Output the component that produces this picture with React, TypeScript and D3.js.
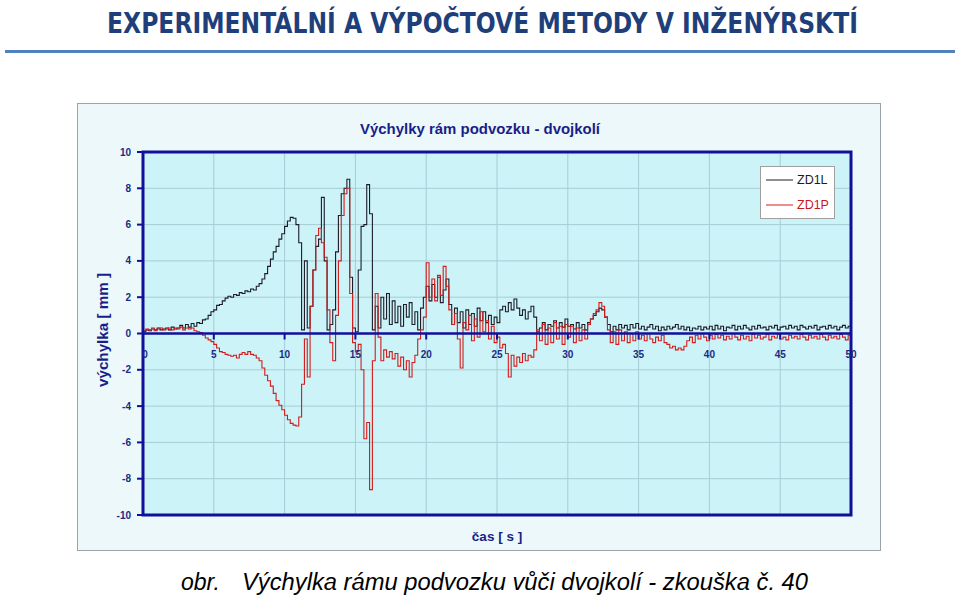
import React from "react";
import * as d3 from "d3";

const T_STEP = 0.2;

const ZD1L = [
  0.1, 0.2, 0.15, 0.25, 0.2, 0.3, 0.2, 0.25, 0.3, 0.2,
  0.35, 0.25, 0.3, 0.45, 0.3, 0.5, 0.35, 0.55, 0.4, 0.6,
  0.55, 0.75, 0.8, 1.0, 1.2, 1.3, 1.55, 1.6, 1.8, 1.95,
  2.05, 2.0, 2.15, 2.1, 2.25, 2.2, 2.35, 2.3, 2.45, 2.4,
  2.6, 2.75, 3.0, 3.3, 3.7, 4.1, 4.5, 4.8, 5.2, 5.5,
  5.9, 6.2, 6.4, 6.35, 6.0, 5.0, 0.2, 4.0, 0.3, 1.5,
  3.5, 4.8, 5.2, 7.5, 4.0, 0.2, 0.5, 1.3, 4.5, 6.5,
  7.7, 8.0, 8.5, 3.1, 0.3, 0.1, 3.5, 5.9, 6.0, 8.2,
  6.6, 0.2, 1.5, 0.3, 2.0, 0.8, 2.2, 0.5, 1.8, 0.6,
  1.5, 0.4, 1.6, 0.9, 1.7, 0.5, 1.2, 0.2, 1.4, 2.0,
  2.6, 1.8, 2.7, 2.0, 3.1, 1.7, 2.4, 3.0, 1.6, 0.5,
  1.4, 0.6, 1.2, 0.3, 1.3, 0.5, 1.1, 0.4, 1.4, 0.7,
  1.2, 0.6, 1.0, 0.5, 0.9, 0.6, 1.3, 1.5, 1.2, 1.7,
  1.3, 1.9, 1.4, 1.0, 1.3, 0.8, 1.2, 1.5, 0.9, 0.1,
  0.3, 0.6, 0.2, 0.5, 0.4, 0.7, 0.3, 0.6, 0.35, 0.8,
  0.4, 0.5, 0.25, 0.6, 0.3, 0.5, 0.2, 0.6, 0.8, 1.0,
  1.2, 1.4, 1.3, 0.9, 0.5, 0.1, 0.4, 0.2, 0.5, 0.3,
  0.45, 0.2, 0.5, 0.3, 0.55, 0.25, 0.4, 0.2, 0.35, 0.5,
  0.25, 0.4, 0.15, 0.35, 0.2, 0.4, 0.25, 0.35, 0.5, 0.25,
  0.4, 0.2, 0.35, 0.15, 0.3, 0.25, 0.4, 0.2, 0.35, 0.25,
  0.4, 0.2, 0.45, 0.25, 0.4, 0.15, 0.35, 0.3, 0.45, 0.2,
  0.4, 0.25, 0.45, 0.3, 0.2, 0.4, 0.25, 0.45, 0.3, 0.35,
  0.2, 0.4, 0.3, 0.45, 0.2, 0.35, 0.4, 0.25, 0.45, 0.3,
  0.4, 0.2, 0.45, 0.35, 0.25, 0.4, 0.3, 0.45, 0.2, 0.35,
  0.4, 0.25, 0.45, 0.3, 0.4, 0.2, 0.35, 0.45, 0.3, 0.4,
  0.25,
];

const ZD1P = [
  0.15, 0.25, 0.2, 0.3, 0.15, 0.25, 0.3, 0.2, 0.25, 0.3,
  0.2, 0.3, 0.25, 0.35, 0.2, 0.3, 0.25, 0.3, 0.15, 0.1,
  0.05, -0.1, -0.25, -0.35, -0.45, -0.6, -0.8, -1.0, -1.05, -1.15,
  -1.2, -1.25, -1.2, -1.35, -1.15, -1.05, -1.15, -1.0, -1.15, -1.2,
  -1.35, -1.5, -1.9, -2.3, -2.6, -2.9, -3.3, -3.7, -3.95, -4.2,
  -4.5, -4.75, -4.95, -5.05, -5.1, -4.6, -2.8, -0.3, -2.4, 1.5,
  3.5, 5.4, 5.8, 5.0, 4.2, 1.3, -0.5, -1.5, 1.0, 4.0,
  6.5, 7.7, 8.0, 2.2, -0.5, -1.0, -0.6, -2.0, -5.8, -4.9,
  -8.6, -1.5, 2.2, -0.2, -1.5, -0.9, -1.3, -1.0, -1.4, -1.1,
  -1.8, -1.3, -2.0, -1.5, -2.4, -1.6, -1.2, -0.3, 0.2, 0.9,
  3.9, 2.0, 3.0, 1.8, 3.2, 2.1, 3.7, 2.6, 1.3, 0.5,
  1.1, -0.3, -1.9, 0.6, 0.2, 1.0, -0.4, 0.8, -0.2, 1.2,
  0.1, 0.7, -0.3, 0.4, -0.5, -0.2, -0.8, -0.6, -1.1, -2.4,
  -1.2, -1.8, -1.3, -1.6, -1.1, -1.5, -1.2, -1.3, -0.9, 0.2,
  -0.4, 0.5, -0.6, 0.3, -0.5, 0.6, -0.3, 0.4, -0.6, 0.5,
  -0.2, 0.4, -0.5, 0.3, -0.4, 0.2, -0.3, 0.5, 0.8, 1.1,
  1.3, 1.7, 1.5, 0.9, 0.2, -0.5, 0.1, -0.6, 0.2, -0.4,
  0.1, -0.5, 0.0, -0.4, 0.1, -0.3, -0.1, -0.4, 0.0, -0.3,
  -0.5, -0.2, -0.4, -0.1, -0.5, -0.6, -0.8, -0.7, -0.9, -0.8,
  -0.9, -0.7, -0.4, -0.2, -0.5, -0.1, -0.3, 0.0, -0.2, -0.4,
  -0.1, -0.3, -0.05, -0.25, -0.1, -0.35, -0.15, -0.3, 0.0, -0.2,
  -0.35, -0.1, -0.3, -0.15, -0.4, -0.05, -0.25, -0.1, -0.3, -0.2,
  -0.05, -0.35, -0.15, -0.25, -0.05, -0.3, -0.2, -0.35, -0.1, -0.25,
  -0.15, -0.3, -0.05, -0.2, -0.35, -0.1, -0.25, -0.15, -0.3, -0.05,
  -0.2, -0.35, -0.1, -0.25, -0.15, -0.3, -0.05, -0.2, -0.35, -0.1,
  0.0,
];

const X_TICKS = [0, 5, 10, 15, 20, 25, 30, 35, 40, 45, 50];
const Y_TICKS = [-10, -8, -6, -4, -2, 0, 2, 4, 6, 8, 10];
const SERIES = [
  { name: "ZD1L", values: ZD1L, color: "#1c1c28", text: "#1c1c28" },
  { name: "ZD1P", values: ZD1P, color: "#d41c1c", text: "#c81818" },
];

const PAGE_TITLE = "EXPERIMENTÁLNÍ A VÝPOČTOVÉ METODY V INŽENÝRSKTÍ";
const CHART_TITLE = "Výchylky rám podvozku - dvojkolí";
const Y_LABEL = "výchylka [ mm ]";
const X_LABEL = "čas [ s ]";
const CAPTION_A = "obr.";
const CAPTION_B = "Výchylka rámu podvozku vůči dvojkolí - zkouška č. 40";

export default function App() {
  const W = 960, H = 597;
  const x = d3.scaleLinear().domain([0, 50]).range([143, 851]);
  const y = d3.scaleLinear().domain([-10, 10]).range([515, 152]);
  const line = d3
    .line<number>()
    .x((_, i) => x(i * T_STEP))
    .y((v) => y(v))
    .curve(d3.curveStepAfter);
  const axisBlue = "#10109a";
  const labelBlue = "#1a2a86";
  const font = "'Liberation Sans', Arial, sans-serif";

  return (
    <svg
      width={W}
      height={H}
      style={{ position: "absolute", left: 0, top: 0, background: "#fff" }}
    >
      <rect x={0} y={0} width={W} height={H} fill="#fff" />
      {/* page header */}
      <text
        x={107}
        y={33}
        fontFamily="'Liberation Sans Narrow', 'DejaVu Sans Condensed', sans-serif"
        fontWeight="bold"
        fontSize={29}
        fill="#1f3f7a"
        textLength={751}
        lengthAdjust="spacingAndGlyphs"
      >
        {PAGE_TITLE}
      </text>
      <rect x={5} y={50} width={950} height={3} fill="#4f81bd" />

      {/* chart frame */}
      <rect x={77.5} y={103.5} width={803} height={447} fill="#ecf8f9" stroke="#9aa4a8" strokeWidth={1} />
      <rect x={x(0)} y={y(10)} width={x(50) - x(0)} height={y(-10) - y(10)} fill="#ccf3f7" />

      {/* grid */}
      {X_TICKS.slice(1, -1).map((t) => (
        <line key={"gx" + t} x1={x(t)} x2={x(t)} y1={y(10)} y2={y(-10)} stroke="#a6cdd4" strokeWidth={1} />
      ))}
      {Y_TICKS.slice(1, -1).filter((v) => v !== 0).map((v) => (
        <line key={"gy" + v} x1={x(0)} x2={x(50)} y1={y(v)} y2={y(v)} stroke="#a6cdd4" strokeWidth={1} />
      ))}

      {/* series */}
      {SERIES.map((s) => (
        <path key={s.name} d={line(s.values) || ""} fill="none" stroke={s.color} strokeWidth={1.1} />
      ))}

      {/* axes */}
      <line x1={x(0)} x2={x(50)} y1={y(0)} y2={y(0)} stroke={axisBlue} strokeWidth={2.5} />
      <rect x={x(0)} y={y(10)} width={x(50) - x(0)} height={y(-10) - y(10)} fill="none" stroke={axisBlue} strokeWidth={3} />
      {Y_TICKS.map((v) => (
        <g key={"yt" + v}>
          <line x1={x(0) - 6} x2={x(0)} y1={y(v)} y2={y(v)} stroke={axisBlue} strokeWidth={2} />
          <text
            x={x(0) - 12}
            y={y(v)}
            dy="0.35em"
            textAnchor="end"
            fontFamily={font}
            fontWeight="bold"
            fontSize={10}
            fill={labelBlue}
          >
            {v}
          </text>
        </g>
      ))}
      {X_TICKS.map((t) => (
        <g key={"xt" + t}>
          <line x1={x(t)} x2={x(t)} y1={y(0)} y2={y(0) + 6} stroke={axisBlue} strokeWidth={2} />
          <text
            x={x(t) + (t === 0 ? 2 : 0)}
            y={y(0) + 24}
            textAnchor="middle"
            fontFamily={font}
            fontWeight="bold"
            fontSize={10}
            fill={labelBlue}
          >
            {t}
          </text>
        </g>
      ))}

      {/* titles */}
      <text x={480} y={134} textAnchor="middle" fontFamily={font} fontWeight="bold" fontSize={15.5} fill="#1a1e8a" textLength={240} lengthAdjust="spacingAndGlyphs">
        {CHART_TITLE}
      </text>
      <text
        transform={`translate(108, ${330}) rotate(-90)`}
        textAnchor="middle"
        fontFamily={font}
        fontWeight="bold"
        fontSize={15}
        fill="#1a1e8a"
        textLength={114}
        lengthAdjust="spacingAndGlyphs"
      >
        {Y_LABEL}
      </text>
      <text x={497} y={541} textAnchor="middle" fontFamily={font} fontWeight="bold" fontSize={13.5} fill="#1a1e8a">
        {X_LABEL}
      </text>

      {/* legend */}
      <rect x={760.5} y={166.5} width={74} height={52} fill="#ffffff" stroke="#a0a0a0" strokeWidth={1} />
      {SERIES.map((s, i) => (
        <g key={"lg" + s.name}>
          <line x1={766} x2={793} y1={180 + i * 25} y2={180 + i * 25} stroke={s.color} strokeWidth={1} />
          <text x={797} y={180 + i * 25} dy="0.35em" fontFamily={font} fontSize={12.5} fill={s.text}>
            {s.name}
          </text>
        </g>
      ))}

      {/* caption */}
      <text x={181} y={590} fontFamily={font} fontStyle="italic" fontSize={23} fill="#000">
        {CAPTION_A}
      </text>
      <text x={242} y={590} fontFamily={font} fontStyle="italic" fontSize={23} fill="#000" textLength={566} lengthAdjust="spacingAndGlyphs">
        {CAPTION_B}
      </text>
    </svg>
  );
}
